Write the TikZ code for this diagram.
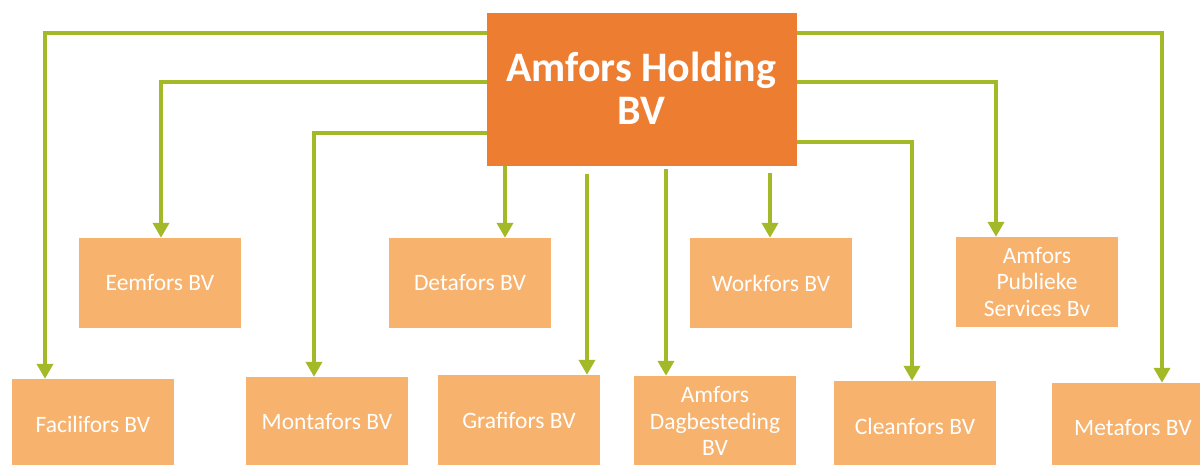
\documentclass[tikz,border=0pt]{standalone}
\usepackage{fontspec}
\setmainfont{Carlito}
\usepackage{xcolor}
\usepackage{tikz}
\usetikzlibrary{arrows.meta}
\definecolor{amforsorange}{RGB}{237,125,49}
\definecolor{amforslight}{RGB}{247,178,110}
\definecolor{amforsgreen}{RGB}{163,185,40}

\begin{document}
\begin{tikzpicture}[x=1pt, y=-1pt,
  company/.style={fill=amforslight, text=white, minimum width=162pt, minimum height=90pt,
    align=center, inner sep=2pt, font=\fontsize{23.5}{26.5}\selectfont},
  link/.style={draw=amforsgreen, line width=4pt, -{Triangle[width=16pt,length=15pt]}}]
\useasboundingbox (0,0) rectangle (1200,464);
\clip (0,0) rectangle (1200,464);

% holding
\node[fill=amforsorange, text=white, minimum width=310pt, minimum height=153pt, align=center,
  font=\fontsize{42}{43}\selectfont\bfseries] (hold) at (642,89.5) {};
\node[text=white, align=center, font=\fontsize{42}{43}\selectfont\bfseries] (holdtext) at (641,88) {Amfors Holding\\BV};

% first row
\node[company] (eem) at (160,283) {Eemfors BV};
\node[company] (deta) at (470,283) {Detafors BV};
\node[company] (work) at (771,283) {Workfors BV};
\node[company] (publ) at (1037,282) {Amfors\\Publieke\\Services Bv};

% second row
\node[company] (faci) at (93,424) {Facilifors BV};
\node[company] (monta) at (327,422) {Montafors BV};
\node[company] (grafi) at (519,420) {Grafifors BV};
\node[company] (dagb) at (715,421) {Amfors\\Dagbesteding\\BV};
\node[company] (clean) at (915,426) {Cleanfors BV};
\node[company] (meta) at (1133,428) {Metafors BV};

% links left
\draw[link] ([yshift=-20pt]hold.north west) -| ([xshift=-48pt]faci.north);
\draw[link] ([yshift=-69pt]hold.north west) -| ([xshift=1pt]eem.north);
\draw[link] ([yshift=-120pt]hold.north west) -| ([xshift=-13pt]monta.north);

% links right
\draw[link] ([yshift=-20pt]hold.north east) -| ([xshift=29pt]meta.north);
\draw[link] ([yshift=-69pt]hold.north east) -| ([xshift=-41pt]publ.north);
\draw[link] ([yshift=-129pt]hold.north east) -| ([xshift=-3pt]clean.north);

% links down
\draw[link] ([xshift=-137pt]hold.south) -- ([xshift=35pt]deta.north);
\draw[link] ([xshift=-55pt,yshift=-8pt]hold.south) -- ([xshift=68pt]grafi.north);
\draw[link] ([xshift=24pt,yshift=-3pt]hold.south) -- ([xshift=-49pt]dagb.north);
\draw[link] ([xshift=128pt,yshift=-7pt]hold.south) -- ([xshift=-1pt]work.north);
\end{tikzpicture}
\end{document}
